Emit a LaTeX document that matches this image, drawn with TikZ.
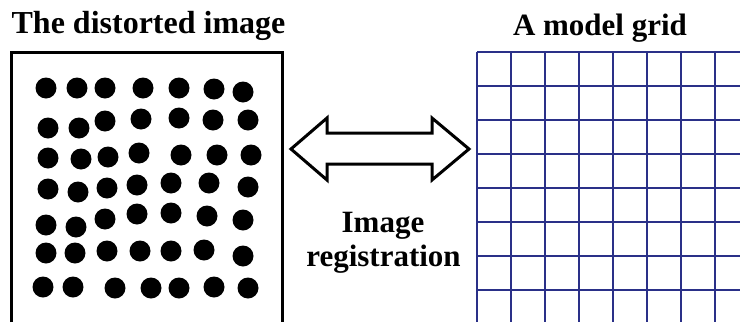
\documentclass[tikz,border=0pt]{standalone}
\usepackage{fontspec}
\setmainfont{Liberation Serif}
\begin{document}
\begin{tikzpicture}[x=1pt,y=-1pt,
  label/.style={font=\fontsize{31}{34}\selectfont\bfseries, inner sep=0pt, anchor=base},
  biglabel/.style={label, font=\fontsize{32}{35}\selectfont\bfseries},
  frame/.style={line width=3pt, black},
  gridline/.style={line width=1.9pt, draw=gridblue},
  dot/.style={fill=black},
  bigarrow/.style={line width=3pt, draw=black, fill=white, line join=miter}]
\definecolor{gridblue}{RGB}{42,48,136}
\useasboundingbox (0,0) rectangle (740,322);

% titles
\node[biglabel] (ltitle) at (148.5,33) {The distorted image};
\node[label] (rtitle) at (600,35) {A model grid};

% frame of the distorted image (open at the bottom)
\draw[frame] (11,322) -- (11,52) -- (282,52) -- (282,322);

% distorted dot pattern
\foreach \p in {
  (46,88),(77,88),(105,88),(143,88),(179,88),(214,89),(243,92),
  (48,128),(79,128),(105,121),(141,119),(179,118),(213,120),(248,120),
  (48,158),(81,159),(108,157),(139,153),(181,155),(217,155),(251,155),
  (48,189),(78,192),(107,188),(137,185),(171,183),(209,183),(248,187),
  (46,225),(76,227),(105,219),(137,214),(171,213),(207,216),(243,220),
  (46,253),(75,253),(107,251),(140,251),(171,251),(204,250),(243,256),
  (43,287),(73,287),(115,288),(151,288),(179,288),(214,287),(248,288)}
  \fill[dot] \p circle (10.5);

% model grid
\foreach \k in {0,...,7} {
  \draw[gridline] (477+34*\k,52) -- (477+34*\k,322);
  \draw[gridline] (477,52+34*\k) -- (740,52+34*\k);
}

% double-headed outline arrow
\draw[bigarrow] (291,149) -- (327,118) -- (327,133) -- (432,133) -- (432,118)
  -- (469,149) -- (432,180) -- (432,164) -- (327,164) -- (327,180) -- cycle;

% caption under the arrow
\node[label] (reg1) at (383,232) {Image};
\node[label] (reg2) at (383.5,266) {registration};
\end{tikzpicture}
\end{document}
